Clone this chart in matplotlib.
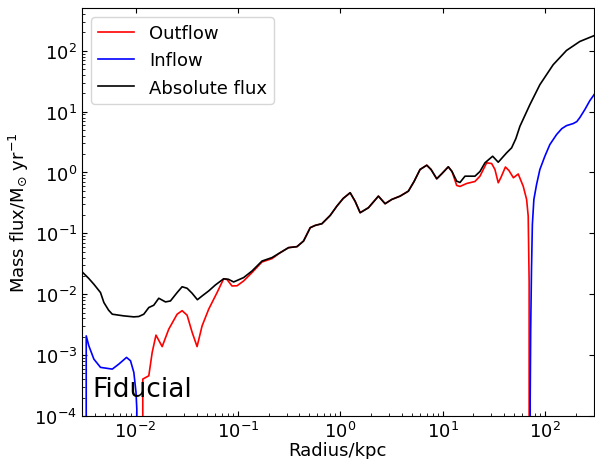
import numpy as np
import matplotlib
matplotlib.use("Agg")
import matplotlib.pyplot as plt

# Radial mass flux profiles (kpc, Msun/yr). Zero means no flux in that direction.
r_out = [0.0030, 0.0114, 0.01178, 0.01349, 0.01456, 0.01585, 0.01822, 0.02113,
         0.02551, 0.02854, 0.03193, 0.03573, 0.03996, 0.04473, 0.05189, 0.06267,
         0.0727, 0.0785, 0.0876, 0.0982, 0.1139, 0.1375, 0.1722, 0.2157,
         0.2598, 0.3131, 0.3781, 0.4384, 0.5097, 0.5705, 0.6632, 0.7990,
         0.9286, 1.070, 1.252, 1.401, 1.567, 1.889, 2.364, 2.748,
         3.194, 3.849, 4.638, 5.272, 6.032, 7.015, 7.724, 8.778,
         9.888, 11.39, 12.38, 13.76, 14.82, 17.22, 20.75, 23.22,
         26.99, 30.20, 32.53, 35.03, 37.21, 41.17, 44.55, 49.28,
         54.89, 61.42, 66.32, 68.75, 70.2, 71.0, 300.0]
outflow = [0, 0, 0.000404, 0.000458, 0.00111, 0.00213, 0.00138, 0.00267,
           0.00470, 0.00537, 0.00453, 0.00238, 0.00138, 0.00302, 0.00568, 0.01066,
           0.01795, 0.0174, 0.01368, 0.01378, 0.01652, 0.0227, 0.0339, 0.0385,
           0.0483, 0.0583, 0.0605, 0.0748, 0.1240, 0.1352, 0.1442, 0.1973,
           0.2805, 0.375, 0.465, 0.335, 0.2185, 0.2638, 0.409, 0.307,
           0.361, 0.409, 0.494, 0.712, 1.120, 1.317, 1.120, 0.788,
           0.963, 1.240, 1.038, 0.612, 0.590, 0.660, 0.712, 0.870,
           1.442, 1.404, 1.12, 0.678, 0.828, 1.231, 1.078, 0.819,
           0.945, 0.596, 0.361, 0.192, 0.016, 0, 0]

r_in = [0.0030, 0.00330, 0.00350, 0.00392, 0.00455, 0.00593, 0.00687, 0.00817,
        0.00894, 0.00963, 0.01011, 0.0103, 0.0106, 71.4, 71.89, 72.70,
        74.02, 75.5, 78.1, 83.0, 89.38, 100.0, 111.9, 130.1,
        146.5, 162.8, 188.9, 205.2, 219.5, 245.6, 274.8, 307.4]
inflow = [0, 0.00207, 0.00142, 0.000859, 0.000629, 0.000589, 0.000712, 0.000917,
          0.000807, 0.000520, 0.000247, 0.000130, 0, 0, 0.00019, 0.00267,
          0.0257, 0.1405, 0.361, 0.636, 1.12, 1.85, 2.88, 4.20,
          5.26, 5.89, 6.36, 6.86, 7.97, 10.78, 15.1, 19.7]

r_abs = [0.0030, 0.00348, 0.00392, 0.00455, 0.00491, 0.00546, 0.00593, 0.00769,
         0.00963, 0.01077, 0.01205, 0.01349, 0.01508, 0.01688, 0.01963, 0.02195,
         0.02551, 0.02854, 0.03193, 0.03573, 0.04025, 0.04504, 0.05189, 0.06032,
         0.0727, 0.08078, 0.09099, 0.1139, 0.1375, 0.1722, 0.2157, 0.2598,
         0.3131, 0.3781, 0.4384, 0.5097, 0.5705, 0.6632, 0.7990, 0.9286,
         1.070, 1.252, 1.401, 1.567, 1.889, 2.364, 2.748, 3.194,
         3.849, 4.638, 5.272, 6.032, 7.015, 7.724, 8.778, 9.888,
         11.39, 12.38, 13.76, 14.82, 16.58, 20.75, 23.22, 25.98,
         30.89, 35.03, 42.29, 47.33, 52.1, 57.05, 71.41, 89.38,
         120.5, 162.8, 219.5, 300.6]
absflux = [0.0234, 0.0183, 0.0146, 0.01066, 0.00731, 0.00547, 0.00470, 0.00441,
           0.00425, 0.00431, 0.00470, 0.00605, 0.00660, 0.00860, 0.00748, 0.00776,
           0.01066, 0.01327, 0.01254, 0.01038, 0.00813, 0.00945, 0.01133, 0.01420,
           0.01795, 0.01762, 0.01591, 0.01878, 0.0241, 0.0351, 0.0400, 0.0483,
           0.0583, 0.0605, 0.0748, 0.1240, 0.1352, 0.1442, 0.1973, 0.2805,
           0.375, 0.465, 0.335, 0.2185, 0.2638, 0.409, 0.307, 0.361,
           0.409, 0.494, 0.712, 1.120, 1.317, 1.120, 0.788, 0.963,
           1.240, 1.038, 0.720, 0.686, 0.870, 0.870, 1.038, 1.442,
           1.850, 1.475, 2.103, 2.541, 3.61, 5.74, 13.03, 27.7,
           58.9, 101.2, 142.0, 176.2]

plt.rcParams['font.size'] = 13

fig = plt.figure(figsize=(5.95, 4.60), dpi=100)
ax = fig.add_axes([0.1378, 0.0935, 0.860, 0.8865])

ax.plot(r_out, outflow, color='red', lw=1.2, label='Outflow')
ax.plot(r_in, inflow, color='blue', lw=1.2, label='Inflow')
ax.plot(r_abs, absflux, color='black', lw=1.2, label='Absolute flux')

ax.set_xscale('log')
ax.set_yscale('log')
ax.set_xlim(0.003, 300)
ax.set_ylim(1e-4, 500)

ax.set_xlabel('Radius/kpc', labelpad=0)
ax.set_ylabel(r'Mass flux/M$_{\odot}$ yr$^{-1}$', labelpad=2)

ax.tick_params(which='both', direction='in')
ax.tick_params(which='major', top=True, right=True)

ax.legend(loc='upper left')
ax.text(0.02, 0.05, 'Fiducial', transform=ax.transAxes, fontsize=19)

fig.savefig('out.png', dpi=100)
